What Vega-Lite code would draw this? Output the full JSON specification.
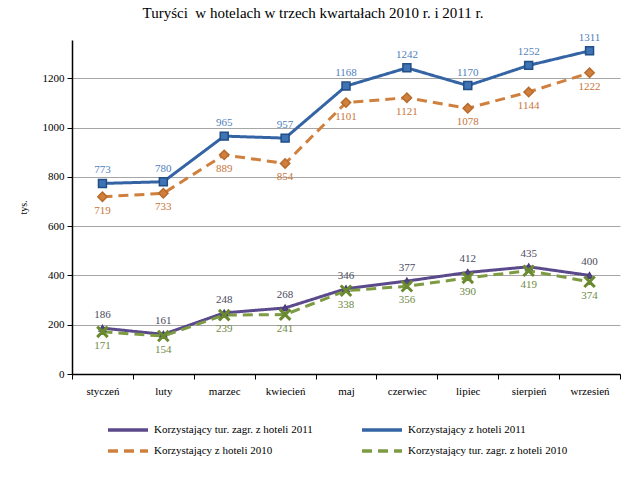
{
  "$schema": "https://vega.github.io/schema/vega-lite/v6.json",
  "autosize": "none",
  "width": 548,
  "height": 334,
  "padding": {"left": 72, "top": 40, "right": 20, "bottom": 110},
  "background": "white",
  "title": {"text": "Turyści\u00a0 w hotelach w trzech kwartałach 2010 r. i 2011 r.", "font": "Liberation Serif", "fontSize": 15, "fontWeight": "normal", "color": "#000000", "anchor": "middle", "frame": "group", "dx": -33, "offset": 11},
  "config": {"view": {"stroke": null}, "font": "Liberation Serif"},
  "data": {"values": [
    {"m": "styczeń", "s": "A", "v": 186},
    {"m": "luty", "s": "A", "v": 161},
    {"m": "marzec", "s": "A", "v": 248},
    {"m": "kwiecień", "s": "A", "v": 268},
    {"m": "maj", "s": "A", "v": 346},
    {"m": "czerwiec", "s": "A", "v": 377},
    {"m": "lipiec", "s": "A", "v": 412},
    {"m": "sierpień", "s": "A", "v": 435},
    {"m": "wrzesień", "s": "A", "v": 400},
    {"m": "styczeń", "s": "B", "v": 773},
    {"m": "luty", "s": "B", "v": 780},
    {"m": "marzec", "s": "B", "v": 965},
    {"m": "kwiecień", "s": "B", "v": 957},
    {"m": "maj", "s": "B", "v": 1168},
    {"m": "czerwiec", "s": "B", "v": 1242},
    {"m": "lipiec", "s": "B", "v": 1170},
    {"m": "sierpień", "s": "B", "v": 1252},
    {"m": "wrzesień", "s": "B", "v": 1311},
    {"m": "styczeń", "s": "C", "v": 719},
    {"m": "luty", "s": "C", "v": 733},
    {"m": "marzec", "s": "C", "v": 889},
    {"m": "kwiecień", "s": "C", "v": 854},
    {"m": "maj", "s": "C", "v": 1101},
    {"m": "czerwiec", "s": "C", "v": 1121},
    {"m": "lipiec", "s": "C", "v": 1078},
    {"m": "sierpień", "s": "C", "v": 1144},
    {"m": "wrzesień", "s": "C", "v": 1222},
    {"m": "styczeń", "s": "D", "v": 171},
    {"m": "luty", "s": "D", "v": 154},
    {"m": "marzec", "s": "D", "v": 239},
    {"m": "kwiecień", "s": "D", "v": 241},
    {"m": "maj", "s": "D", "v": 338},
    {"m": "czerwiec", "s": "D", "v": 356},
    {"m": "lipiec", "s": "D", "v": 390},
    {"m": "sierpień", "s": "D", "v": 419},
    {"m": "wrzesień", "s": "D", "v": 374}
  ]},
  "transform": [
    {"lookup": "s", "from": {"data": {"values": [
      {"s": "A", "series": "Korzystający tur. zagr. z hoteli 2011"},
      {"s": "B", "series": "Korzystający z hoteli 2011"},
      {"s": "C", "series": "Korzystający z hoteli 2010"},
      {"s": "D", "series": "Korzystający tur. zagr. z hoteli 2010"}
    ]}, "key": "s", "fields": ["series"]}}
  ],
  "encoding": {
    "x": {
      "field": "m", "type": "nominal", "sort": null, "bandPosition": 0.5,
      "scale": {"type": "band", "paddingInner": 0, "paddingOuter": 0},
      "axis": {"title": null, "labelAngle": 0, "labelFont": "Liberation Serif", "labelFontSize": 11, "labelColor": "#000000", "domainColor": "#000000", "domainWidth": 1.5, "tickColor": "#000000", "tickBand": "extent", "tickSize": 5, "labelPadding": 6, "grid": false}
    },
    "y": {
      "field": "v", "type": "quantitative",
      "scale": {"domain": [0, 1355], "nice": false},
      "axis": {"title": "tys.", "format": "d", "titleFont": "Liberation Serif", "titleFontSize": 10, "titleFontWeight": "normal", "titleColor": "#000000", "titlePadding": 14, "values": [0, 200, 400, 600, 800, 1000, 1200], "labelFont": "Liberation Serif", "labelFontSize": 11, "labelColor": "#000000", "domainColor": "#000000", "domainWidth": 1.5, "tickColor": "#000000", "tickSize": 5, "labelPadding": 3, "gridColor": "#A6A6A6", "gridWidth": 1}
    }
  },
  "layer": [
    {
      "mark": {"type": "line", "strokeWidth": 3},
      "encoding": {
        "color": {
          "field": "series", "type": "nominal",
          "scale": {"domain": ["Korzystający tur. zagr. z hoteli 2011", "Korzystający z hoteli 2011", "Korzystający z hoteli 2010", "Korzystający tur. zagr. z hoteli 2010"], "range": ["#5B4A8B", "#3464A4", "#D0803E", "#7D9B42"]},
          "legend": {"title": null, "orient": "none", "legendX": 49, "legendY": 383, "columns": 2, "columnPadding": 42, "rowPadding": 7, "direction": "horizontal", "labelFont": "Liberation Serif", "labelFontSize": 11, "labelColor": "#000000", "symbolStrokeWidth": 3.5, "symbolSize": 100, "symbolType": "M-4,0L4,0", "labelOffset": 19}
        },
        "strokeDash": {
          "field": "series", "type": "nominal",
          "scale": {"domain": ["Korzystający tur. zagr. z hoteli 2011", "Korzystający z hoteli 2011", "Korzystający z hoteli 2010", "Korzystający tur. zagr. z hoteli 2010"], "range": [[1, 0], [1, 0], [10, 6], [10, 6]]},
          "legend": {"title": null, "orient": "none", "legendX": 49, "legendY": 383, "columns": 2, "columnPadding": 42, "rowPadding": 7, "direction": "horizontal", "labelFont": "Liberation Serif", "labelFontSize": 11, "labelColor": "#000000", "symbolStrokeWidth": 3.5, "symbolSize": 100, "symbolType": "M-4,0L4,0", "labelOffset": 19}
        }
      }
    },
    {
      "mark": {"type": "point", "filled": true, "opacity": 1, "strokeWidth": 1.5},
      "encoding": {
        "fill": {
          "field": "s", "type": "nominal", "legend": null,
          "scale": {"domain": ["A", "B", "C", "D"], "range": ["#5B4A8B", "#3E73B4", "#D0803E", "#8AAA4A"]}
        },
        "stroke": {
          "field": "s", "type": "nominal", "legend": null,
          "scale": {"domain": ["A", "B", "C", "D"], "range": ["#4A3C78", "#234E86", "#B86A2A", "#6A8A30"]}
        },
        "shape": {
          "field": "s", "type": "nominal", "legend": null,
          "scale": {"domain": ["A", "B", "C", "D"], "range": ["triangle-up", "square", "diamond", "M-0.8,-1L0,-0.2L0.8,-1L1,-0.8L0.2,0L1,0.8L0.8,1L0,0.2L-0.8,1L-1,0.8L-0.2,0L-1,-0.8Z"]}
        },
        "size": {
          "field": "s", "type": "nominal", "legend": null,
          "scale": {"domain": ["A", "B", "C", "D"], "range": [40, 110, 90, 90]}
        }
      }
    },
    {
      "transform": [{"filter": {"field": "s", "oneOf": ["A", "B"]}}],
      "mark": {"type": "text", "baseline": "bottom", "dy": -8, "font": "Liberation Serif", "fontSize": 11},
      "encoding": {
        "text": {"field": "v", "type": "quantitative", "format": "d"},
        "fill": {
          "field": "s", "type": "nominal", "legend": null,
          "scale": {"domain": ["A", "B", "C", "D"], "range": ["#4B4A5E", "#4F7FBC", "#C8753A", "#6F8A45"]}
        }
      }
    },
    {
      "transform": [{"filter": {"field": "s", "oneOf": ["C", "D"]}}],
      "mark": {"type": "text", "baseline": "top", "dy": 8, "font": "Liberation Serif", "fontSize": 11},
      "encoding": {
        "text": {"field": "v", "type": "quantitative", "format": "d"},
        "fill": {
          "field": "s", "type": "nominal", "legend": null,
          "scale": {"domain": ["A", "B", "C", "D"], "range": ["#4B4A5E", "#4F7FBC", "#C8753A", "#6F8A45"]}
        }
      }
    }
  ],
  "resolve": {"scale": {"fill": "independent"}}
}
